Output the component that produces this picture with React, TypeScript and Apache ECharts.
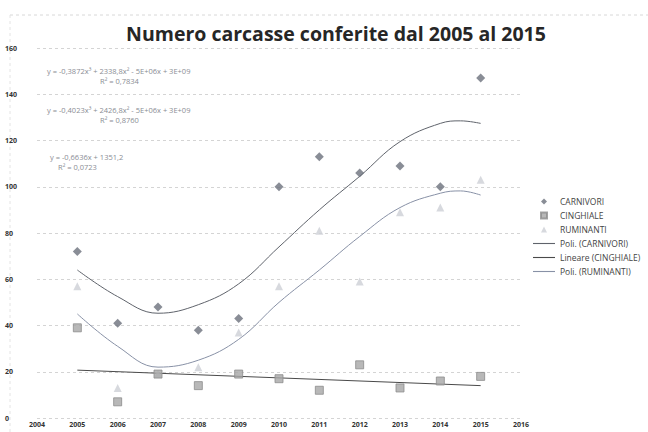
import React, { useEffect, useRef } from "react";
import * as echarts from "echarts";

const years = [2005, 2006, 2007, 2008, 2009, 2010, 2011, 2012, 2013, 2014, 2015];
const carnivori = [72, 41, 48, 38, 43, 100, 113, 106, 109, 100, 147];
const cinghiale = [39, 7, 19, 14, 19, 17, 12, 23, 13, 16, 18];
const ruminanti = [57, 13, 19, 22, 37, 57, 81, 59, 89, 91, 103];

// trendline values
const trendYears = [2005, 2006, 2007, 2008, 2009, 2010, 2011, 2012, 2013, 2014, 2014.5, 2015];
const polyCarnivori = [64, 52.5, 45.3, 49, 58, 74, 90, 104.5, 119.5, 127.4, 128.5, 127.4];
const polyRuminanti = [45, 31, 22, 25, 34, 50, 64, 78.5, 91, 97.2, 98.2, 96.4];
const linYears = [2005, 2015];
const linCinghiale = [20.7, 14.0];

const yTicks = [0, 20, 40, 60, 80, 100, 120, 140, 160];

const equations = [
  { eq: "y = -0,3872x³ + 2338,8x² - 5E+06x + 3E+09", r2: "R² = 0,7834" },
  { eq: "y = -0,4023x³ + 2426,8x² - 5E+06x + 3E+09", r2: "R² = 0,8760" },
  { eq: "y = -0,6636x + 1351,2", r2: "R² = 0,0723" },
];

const pair = (xs: number[], ys: number[]) => xs.map((x, i) => [x, ys[i]]);

const ICON_DIAMOND = "path://M5,0 L10,5 L5,10 L0,5 Z";
const ICON_RECT = "path://M0,0 L10,0 L10,10 L0,10 Z";
const ICON_TRI = "path://M5,0 L10,10 L0,10 Z";
const ICON_LINE = "path://M0,0 L24,0 L24,1.2 L0,1.2 Z";

export default function App() {
  const ref = useRef<HTMLDivElement>(null);
  useEffect(() => {
    if (!ref.current) return;
    const chart = echarts.init(ref.current, undefined, { renderer: "svg" });
    const font = "'Open Sans', 'Liberation Sans', sans-serif";
    const eqStyle = { fill: "#8a8d94", fontSize: 7.5, fontFamily: font };
    chart.setOption({
      animation: false,
      backgroundColor: "#ffffff",
      title: {
        text: "Numero carcasse conferite dal 2005 al 2015",
        left: 331,
        textAlign: "center",
        top: 18,
        textStyle: { fontFamily: font, fontWeight: "bold", fontSize: 19.5, color: "#262626" },
      },
      grid: { left: 37, right: 127, top: 48, bottom: 14, containLabel: false },
      xAxis: {
        type: "value",
        min: 2004,
        max: 2016,
        interval: 1,
        axisLine: { show: false },
        axisTick: { show: false },
        splitLine: { show: false },
        axisLabel: { fontSize: 7, fontWeight: "bold", color: "#333", fontFamily: font, margin: 3, formatter: (v: number) => String(v) },
      },
      yAxis: {
        type: "value",
        min: yTicks[0],
        max: yTicks[yTicks.length - 1],
        interval: 20,
        axisLine: { show: false },
        axisTick: { show: false },
        splitLine: { show: true, lineStyle: { color: "#d4d4d4", type: [3, 3], width: 1 } },
        axisLabel: { fontSize: 7, fontWeight: "bold", color: "#333", fontFamily: font, align: "left", margin: 32 },
      },
      legend: {
        orient: "vertical",
        left: 528,
        top: 192,
        itemWidth: 22,
        itemHeight: 6,
        itemGap: 5,
        symbolKeepAspect: true,
        textStyle: { fontSize: 8.5, color: "#444", fontFamily: font },
        data: [
          { name: "CARNIVORI", icon: ICON_DIAMOND },
          { name: "CINGHIALE", icon: ICON_RECT },
          { name: "RUMINANTI", icon: ICON_TRI },
          { name: "Poli. (CARNIVORI)", icon: ICON_LINE },
          { name: "Lineare (CINGHIALE)", icon: ICON_LINE },
          { name: "Poli. (RUMINANTI)", icon: ICON_LINE },
        ],
      },
      graphic: [
        { type: "line", shape: { x1: 10, y1: 15, x2: 648, y2: 15 }, style: { stroke: "#d8d8d8", lineWidth: 1, lineDash: [3, 3] } },
        { type: "line", shape: { x1: 10, y1: 15, x2: 10, y2: 432 }, style: { stroke: "#e4e4e4", lineWidth: 1, lineDash: [3, 3] } },
        ...equations.flatMap((e, i) => {
          const y0 = [72, 111, 158][i];
          const ex = [47, 47, 50][i];
          const rx = [100, 100, 58][i];
          return [
            { type: "text", left: ex, top: y0 - 5, style: { ...eqStyle, text: e.eq } },
            { type: "text", left: rx, top: y0 + 5, style: { ...eqStyle, text: e.r2 } },
          ];
        }),
      ],
      series: [
        {
          name: "CARNIVORI",
          type: "scatter",
          symbol: "diamond",
          symbolSize: 9,
          itemStyle: { color: "#6c717c" },
          data: pair(years, carnivori),
          z: 5,
        },
        {
          name: "CINGHIALE",
          type: "scatter",
          symbol: "rect",
          symbolSize: 8,
          itemStyle: { color: "#a6a6a6", borderColor: "#8c8c8c", borderWidth: 1 },
          data: pair(years, cinghiale),
          z: 5,
        },
        {
          name: "RUMINANTI",
          type: "scatter",
          symbol: "triangle",
          symbolSize: 8,
          itemStyle: { color: "#cdd0d6" },
          data: pair(years, ruminanti),
          z: 4,
        },
        {
          name: "Poli. (CARNIVORI)",
          type: "line",
          smooth: 0.4,
          symbol: "none",
          lineStyle: { color: "#5f636b", width: 1 },
          itemStyle: { color: "#5f636b" },
          data: pair(trendYears, polyCarnivori),
        },
        {
          name: "Lineare (CINGHIALE)",
          type: "line",
          symbol: "none",
          lineStyle: { color: "#4a4a4a", width: 1 },
          itemStyle: { color: "#4a4a4a" },
          data: pair(linYears, linCinghiale),
        },
        {
          name: "Poli. (RUMINANTI)",
          type: "line",
          smooth: 0.4,
          symbol: "none",
          lineStyle: { color: "#8891a6", width: 1 },
          itemStyle: { color: "#8891a6" },
          data: pair(trendYears, polyRuminanti),
        },
      ],
    });
    return () => chart.dispose();
  }, []);
  return (
    <div
      ref={ref}
      style={{ position: "absolute", left: 0, top: 0, width: 648, height: 432 }}
    />
  );
}
